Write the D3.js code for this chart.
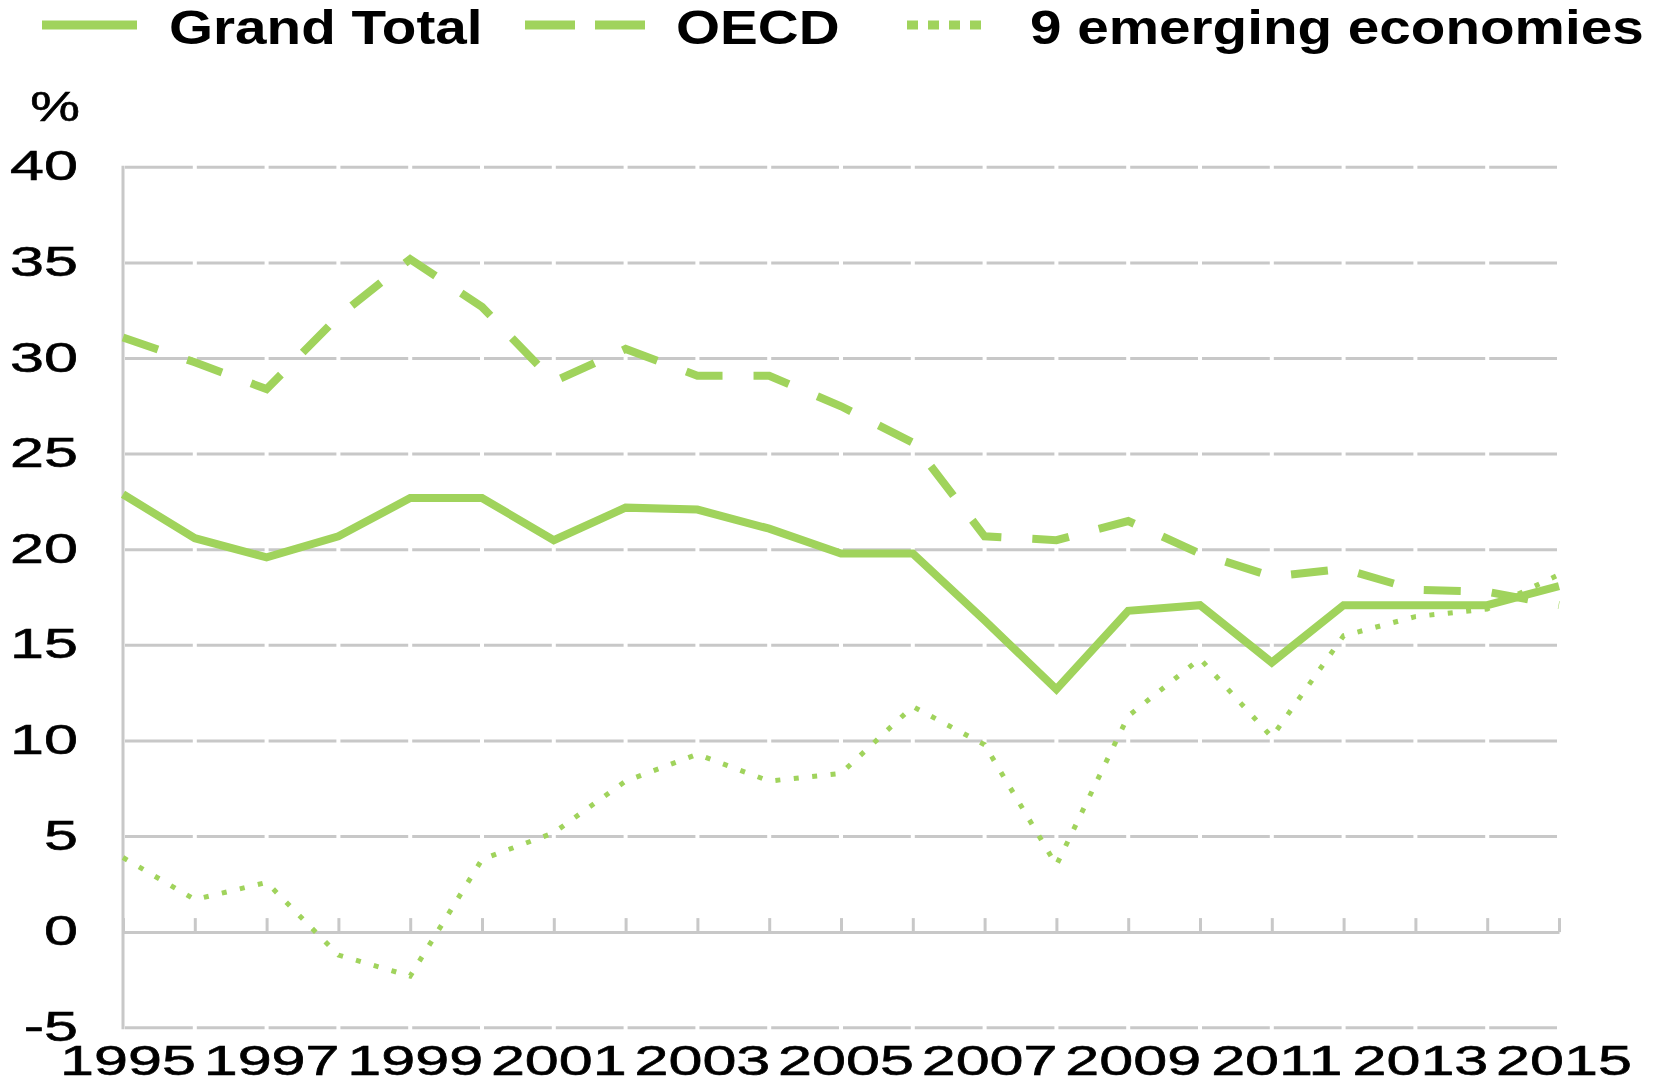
<!DOCTYPE html>
<html lang="en">

<head>
  <meta charset="utf-8">
  <title>Grand Total / OECD / 9 emerging economies</title>
  <script src="https://d3js.org/d3.v7.min.js"></script>
  <style>
    body {
      margin: 0;
      background: white;
    }

    .grid {
      stroke: #c8c8c8;
      stroke-width: 3;
    }

    .series {
      fill: none;
      stroke: #a0d35c;
    }

    .tick-label {
      font-family: "Liberation Sans", Arial, sans-serif;
      font-size: 43px;
      fill: black;
      stroke: black;
      stroke-width: 0.6px;
    }

    .legend-label {
      font-family: "Liberation Sans", Arial, sans-serif;
      font-size: 48px;
      font-weight: bold;
      fill: black;
    }
  </style>
</head>

<body>
  <div id="chart"></div>

  <script>
    // values
    var years = [1995, 1996, 1997, 1998, 1999, 2000, 2001, 2002, 2003, 2004, 2005,
                 2006, 2007, 2008, 2009, 2010, 2011, 2012, 2013, 2014, 2015];
    var grandTotal = [22.9, 20.6, 19.6, 20.7, 22.7, 22.7, 20.5, 22.2, 22.1, 21.1, 19.8,
                      19.8, 16.3, 12.7, 16.8, 17.1, 14.1, 17.1, 17.1, 17.1, 18.1];
    var oecd = [31.1, 29.8, 28.4, 32.2, 35.2, 32.7, 28.8, 30.5, 29.1, 29.1, 27.5,
                25.6, 20.7, 20.5, 21.5, 19.8, 18.6, 19.0, 17.9, 17.8, 17.1];
    var emerging = [3.9, 1.7, 2.6, -1.2, -2.3, 3.8, 5.2, 7.9, 9.3, 7.9, 8.3,
                    11.8, 9.8, 3.5, 11.3, 14.3, 10.2, 15.5, 16.5, 16.9, 18.7];
    var yTicks = [-5, 0, 5, 10, 15, 20, 25, 30, 35, 40];
    var xLabels = [1995, 1997, 1999, 2001, 2003, 2005, 2007, 2009, 2011, 2013, 2015];
    var seriesNames = ["Grand Total", "OECD", "9 emerging economies"];

    var width = 1657,
      height = 1083;

    var svg = d3.select("#chart")
      .append("svg")
        .attr("width", width)
        .attr("height", height);

    var x = d3.scaleLinear().domain([1995, 2015]).range([123, 1559]);
    var y = d3.scaleLinear().domain([-5, 40]).range([1027.7, 167.3]);

    // gridlines, broken by a small gap at every year
    var segs = [];
    yTicks.filter(function(v) { return v !== 0; }).forEach(function(v) {
      for (var i = 0; i < years.length - 1; i++) {
        segs.push({v: v, a: years[i], b: years[i + 1]});
      }
    });
    svg.selectAll("line.grid")
      .data(segs)
      .enter()
      .append("line")
        .attr("class", "grid")
        .attr("x1", function(d) { return x(d.a) + 2; })
        .attr("x2", function(d) { return x(d.b) - 2; })
        .attr("y1", function(d) { return y(d.v); })
        .attr("y2", function(d) { return y(d.v); });

    // zero line with upward ticks
    var xAxis = svg.append("g")
      .attr("transform", "translate(0," + y(0) + ")")
      .call(d3.axisBottom(x)
        .tickValues(years)
        .tickSizeInner(-14)
        .tickSizeOuter(0)
        .tickFormat(""));
    xAxis.select(".domain").attr("stroke", "#c8c8c8").attr("stroke-width", 3);
    xAxis.selectAll(".tick line").attr("stroke", "#c8c8c8").attr("stroke-width", 3);

    // y axis line
    svg.append("line")
      .attr("class", "grid")
      .attr("x1", x(1995)).attr("x2", x(1995))
      .attr("y1", y(40) - 1.5).attr("y2", y(-5) + 1.5);

    // tick labels (the picture's text is wide, so stretch it)
    svg.selectAll("text.ylab")
      .data(yTicks)
      .enter()
      .append("text")
        .attr("class", "tick-label ylab")
        .attr("text-anchor", "end")
        .attr("transform", function(d) {
          return "translate(78," + (y(d) + 13) + ") scale(1.42,1)";
        })
        .text(function(d) { return d; });

    svg.append("text")
      .attr("class", "tick-label")
      .attr("text-anchor", "middle")
      .attr("transform", "translate(55,121) scale(1.3,1)")
      .text("%");

    svg.selectAll("text.xlab")
      .data(xLabels)
      .enter()
      .append("text")
        .attr("class", "tick-label xlab")
        .attr("text-anchor", "middle")
        .attr("transform", function(d) {
          return "translate(" + (x(d) + 5) + ",1075) scale(1.42,1)";
        })
        .text(function(d) { return d; });

    // series
    var line = d3.line()
      .x(function(d, i) { return x(years[i]); })
      .y(function(d) { return y(d); });

    svg.append("path")
      .datum(emerging)
      .attr("class", "series")
      .attr("stroke-width", 5)
      .attr("stroke-dasharray", "5,13.5")
      .attr("d", line);

    svg.append("path")
      .datum(oecd)
      .attr("class", "series")
      .attr("stroke-width", 8)
      .attr("stroke-dasharray", "37,31")
      .attr("d", line);

    svg.append("path")
      .datum(grandTotal)
      .attr("class", "series")
      .attr("stroke-width", 8)
      .attr("d", line);

    // legend
    var legend = [
      {name: seriesNames[0], x1: 42, x2: 137, dash: null, w: 9, tx: 169},
      {name: seriesNames[1], x1: 525, x2: 645, dash: "50,20", w: 9, tx: 676},
      {name: seriesNames[2], x1: 907, x2: 983, dash: "11,10", w: 9, tx: 1030}
    ];

    svg.selectAll("line.legend")
      .data(legend)
      .enter()
      .append("line")
        .attr("class", "series legend")
        .attr("x1", function(d) { return d.x1; })
        .attr("x2", function(d) { return d.x2; })
        .attr("y1", 25)
        .attr("y2", 25)
        .attr("stroke-width", function(d) { return d.w; })
        .attr("stroke-dasharray", function(d) { return d.dash; });

    svg.selectAll("text.legend-label")
      .data(legend)
      .enter()
      .append("text")
        .attr("class", "legend-label")
        .attr("transform", function(d) { return "translate(" + d.tx + ",44) scale(1.18,1)"; })
        .text(function(d) { return d.name; });
  </script>
</body>

</html>
